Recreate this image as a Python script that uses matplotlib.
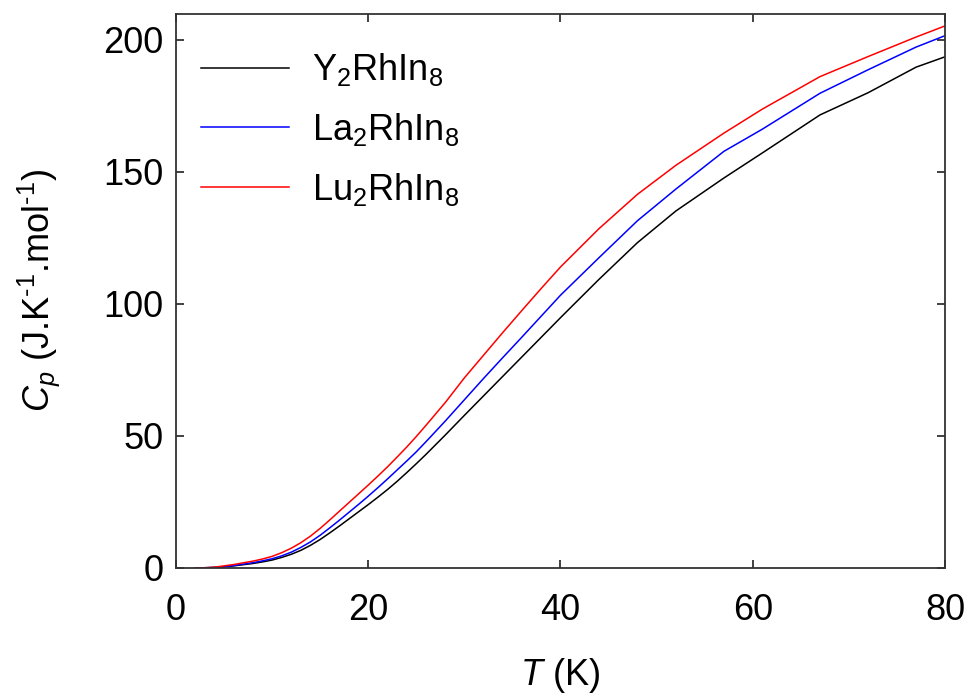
import matplotlib
matplotlib.use('Agg')
import matplotlib.pyplot as plt

plt.rcParams['font.family'] = ['Liberation Sans', 'DejaVu Sans']
plt.rcParams['mathtext.fontset'] = 'custom'
plt.rcParams['mathtext.rm'] = 'Liberation Sans'
plt.rcParams['mathtext.it'] = 'Liberation Sans:italic'

# temperature (K)
T = [2, 3, 4, 5, 6, 8, 9, 10, 11, 12, 13, 14, 15, 16, 17, 18, 19, 20, 21,
     22, 23, 24, 25, 26, 28, 30, 32, 34, 36, 38, 40, 44, 48, 52, 57, 61,
     67, 72, 77, 80]

# heat capacity Cp (J/K/mol)
Cp_Y = [0.0, 0.05, 0.2, 0.4, 0.8, 1.7, 2.3, 3.0, 4.0, 5.2, 6.7, 8.6, 10.8,
        13.3, 15.9, 18.6, 21.3, 24.0, 26.8, 29.7, 32.8, 36.1, 39.5, 43.0,
        50.3, 57.8, 65.2, 72.6, 80.0, 87.4, 94.8, 109.3, 123.2, 135.2,
        147.7, 157.2, 171.6, 180.0, 189.7, 193.6]
Cp_La = [0.0, 0.1, 0.2, 0.5, 0.9, 2.0, 2.7, 3.5, 4.6, 6.0, 7.8, 9.9, 12.4,
         15.2, 18.1, 21.1, 24.1, 27.2, 30.4, 33.7, 37.1, 40.5, 44.0, 47.8,
         55.6, 63.7, 71.8, 79.7, 87.5, 95.4, 103.3, 117.5, 131.5, 143.5,
         157.8, 166.2, 179.8, 188.7, 197.3, 201.6]
Cp_Lu = [0.0, 0.1, 0.3, 0.8, 1.3, 2.6, 3.4, 4.4, 5.8, 7.5, 9.6, 12.1, 15.0,
         18.2, 21.5, 24.8, 28.1, 31.4, 34.8, 38.3, 42.0, 45.8, 49.8, 54.0,
         62.6, 72.0, 80.6, 89.2, 97.6, 105.9, 114.0, 128.5, 141.5, 152.5,
         164.7, 173.8, 186.1, 193.7, 201.1, 205.3]

labels = [r'Y$_2$RhIn$_8$', r'La$_2$RhIn$_8$', r'Lu$_2$RhIn$_8$']
colors = ['black', '#0000ff', '#ff0000']

fig = plt.figure(figsize=(9.74, 6.97), dpi=100)
ax = fig.add_axes([0.1807, 0.1851, 0.7895, 0.7955])

for y, lab, c in zip([Cp_Y, Cp_La, Cp_Lu], labels, colors):
    ax.plot(T, y, color=c, lw=1.1, label=lab)

ax.set_xlim(0, 80)
ax.set_ylim(0, 210)
ax.set_xticks([0, 20, 40, 60, 80])
ax.set_yticks([0, 50, 100, 150, 200])

for s in ax.spines.values():
    s.set_linewidth(1.3)
    s.set_color('#333333')
ax.tick_params(direction='in', top=True, right=True, length=6, width=1.3,
               color='#333333', labelsize=26)
ax.tick_params(axis='x', pad=18)
ax.tick_params(axis='y', pad=9)

ax.set_xlabel(r'$T$ (K)', fontsize=26, labelpad=20)
ax.set_ylabel(r'$C_p$ (J.K$^{\text{-}1}$.mol$^{\text{-}1}$)', fontsize=26,
              labelpad=30)

ax.legend(loc='upper left', frameon=False, fontsize=26, handlelength=2.44,
          handletextpad=0.64, labelspacing=0.63, borderaxespad=0,
          bbox_to_anchor=(0.0138, 0.958))

fig.savefig('out.png', dpi=100)
